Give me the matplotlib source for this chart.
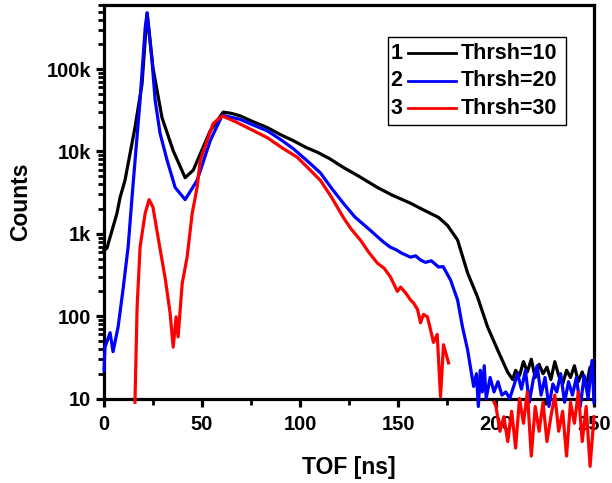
import numpy as np
import matplotlib
matplotlib.use('Agg')
import matplotlib.pyplot as plt
from matplotlib.ticker import FixedLocator, LogLocator, NullFormatter, FuncFormatter
from matplotlib.patches import Rectangle

plt.rcParams['font.family'] = ['Liberation Sans', 'DejaVu Sans']
plt.rcParams['font.weight'] = 'bold'

# series 1, Thrsh=10
x1 = [0, 1.5, 6.6, 8.2, 10.7, 15.8, 19.4, 22.0, 25.0, 29.6, 35.3, 41.4, 45.5, 54.2,
      60.8, 65, 69.5, 76, 83.3, 90, 96.6, 103, 108.8, 115, 122.1, 130, 139.5, 147,
      156.4, 163, 170.7, 175.3, 180.4, 185.5, 190.6, 195.7, 200.8, 205.9, 208.5,
      210, 212, 214, 216, 218, 220, 222, 224, 226, 228, 230, 232, 234, 236, 238,
      240, 242, 244, 246, 248, 250]
y1 = [630, 670, 1770, 2760, 4450, 19500, 66000, 480000, 103000, 25700, 10200, 4800,
      5900, 17800, 30000, 29000, 27000, 23000, 19500, 16000, 13500, 11200, 9800, 8200,
      6400, 5000, 3650, 2950, 2350, 1950, 1580, 1260, 840, 335, 170, 74, 39, 21, 17,
      22, 19, 28, 21, 30, 18, 26, 20, 24, 17, 28, 19, 15, 22, 18, 25, 16, 21, 14,
      24, 15]

# series 2, Thrsh=20
x2 = [0, 0.5, 3.1, 4.6, 7.2, 9.7, 12.3, 14.8, 18.4, 21.0, 22.0, 24.5, 26.1, 28.6,
      32.2, 36.3, 41.4, 47.5, 54.2, 60.3, 69.5, 76, 83.3, 90, 96.6, 105.3, 110.4,
      116, 122.1, 128, 135.9, 140, 143, 146, 149, 152, 156.4, 159, 161.5, 164, 167,
      170.7, 173, 176.8, 180.4, 182.9, 185.5, 188.6, 190, 191, 192, 193, 194, 195,
      197, 199, 201, 203, 205, 207, 209, 211, 213, 215, 217, 219, 221, 223, 225,
      227, 229, 231, 233, 235, 237, 239, 241, 243, 245, 247, 249, 250]
y2 = [22, 42, 63, 37, 74, 210, 690, 3900, 41700, 316000, 480000, 126000, 41700,
      16600, 7800, 3650, 2600, 4450, 13500, 27500, 24500, 21000, 17800, 14000, 10800,
      7100, 5500, 3600, 2350, 1600, 1100, 900, 780, 690, 640, 580, 520, 540, 480,
      450, 470, 395, 400, 275, 157, 74, 39, 14, 20, 8, 22, 12, 25, 10, 18, 12, 16,
      11, 12, 10, 14, 20, 13, 22, 9, 17, 25, 11, 18, 8, 15, 12, 20, 9, 16, 11, 18,
      8, 19, 10, 29, 9]

# series 3, Thrsh=30 (no counts between ~176 and ~199 ns)
x3 = [15.8, 16.9, 18.4, 21.0, 23.0, 25.0, 27.6, 31.2, 33.7, 35.3, 36.8, 37.8, 39.9,
      42.4, 45.0, 47.5, 49.1, 55.7, 60.3, 67, 75, 83.3, 91, 98.6, 105.3, 110.4, 116,
      122.1, 126, 130.8, 135, 139.5, 143, 146.1, 149.7, 151.3, 154, 156.4, 157.9,
      160, 161.5, 163, 165.0, 166.5, 168.1, 170, 171.7, 173.2, 175.8, 188,
      199, 200, 202, 204, 206, 208, 210, 212, 214, 216, 218, 220, 222, 224, 226, 228,
      230, 232, 234, 236, 238, 240, 242, 244, 246, 248, 250]
y3 = [9, 130, 690, 1770, 2600, 2100, 900, 290, 110, 42, 98, 56, 250, 520, 1770, 3650,
      7800, 21800, 27000, 23000, 18500, 14700, 11000, 8500, 5900, 4450, 2800, 1580,
      1150, 840, 600, 440, 380, 300, 200, 225, 190, 157, 145, 120, 83, 105, 98, 70,
      48, 60, 10.5, 45, 27, np.nan,
      9, 8, 4, 6, 3, 7, 2.5, 10, 5, 12, 2, 8, 4, 9, 3, 6, 11, 4, 7, 2, 9, 5, 12, 3,
      8, 1.5, 6]

fig = plt.figure(figsize=(6.12, 4.83), dpi=100)
ax = fig.add_axes([104 / 612, (483 - 398.5) / 483, 490 / 612, 393.5 / 483])

lw = 2.3
ax.plot(x1, y1, color='black', lw=lw, clip_on=False, zorder=3)
ax.plot(x2, y2, color='#0000ff', lw=lw, clip_on=False, zorder=3)
ax.plot(x3, y3, color='#ff0000', lw=lw, clip_on=False, zorder=3)

ax.set_yscale('log')
ax.set_xlim(0, 250)
ax.set_ylim(10, 6e5)

ax.xaxis.set_major_locator(FixedLocator([0, 50, 100, 150, 200, 250]))
ax.xaxis.set_minor_locator(FixedLocator([25, 75, 125, 175, 225]))
ax.yaxis.set_major_locator(FixedLocator([10, 100, 1e3, 1e4, 1e5]))
ax.yaxis.set_minor_locator(LogLocator(base=10, subs=np.arange(2, 10)))
ax.yaxis.set_minor_formatter(NullFormatter())

ylabels = {10: '10', 100: '100', 1000: '1k', 10000: '10k', 100000: '100k'}
ax.yaxis.set_major_formatter(FuncFormatter(lambda v, p: ylabels.get(int(round(v)), '')))

for s in ax.spines.values():
    s.set_linewidth(2.3)
ax.tick_params(which='major', direction='out', length=6, width=2.3,
               labelsize=14.5)
ax.tick_params(axis='x', which='major', pad=6)
ax.tick_params(axis='y', which='major', pad=3)
ax.tick_params(which='minor', direction='out', length=4, width=2)
ax.tick_params(top=False, right=False, which='both')
for lab in ax.get_xticklabels() + ax.get_yticklabels():
    lab.set_fontweight('bold')

ax.set_xlabel('TOF [ns]', fontsize=16.5, fontweight='bold', labelpad=16)
ax.set_ylabel('Counts', fontsize=16.5, fontweight='bold', labelpad=11)

# legend drawn by hand: number, line sample, label
ax.add_patch(Rectangle((0.580, 0.695), 0.363, 0.224, transform=ax.transAxes,
                       facecolor='white', edgecolor='black', lw=1, zorder=4))
rows = [('1', 'black', 'Thrsh=10', 0.878),
        ('2', '#0000ff', 'Thrsh=20', 0.808),
        ('3', '#ff0000', 'Thrsh=30', 0.738)]
for num, col, lab, yy in rows:
    ax.text(0.597, yy, num, transform=ax.transAxes, ha='center', va='center',
            fontsize=15.5, fontweight='bold', zorder=5)
    ax.plot([0.620, 0.718], [yy, yy], color=col, lw=2, transform=ax.transAxes,
            zorder=5)
    ax.text(0.729, yy, lab, transform=ax.transAxes, ha='left', va='center',
            fontsize=15.5, fontweight='bold', zorder=5)

fig.savefig('out.png', dpi=100)
